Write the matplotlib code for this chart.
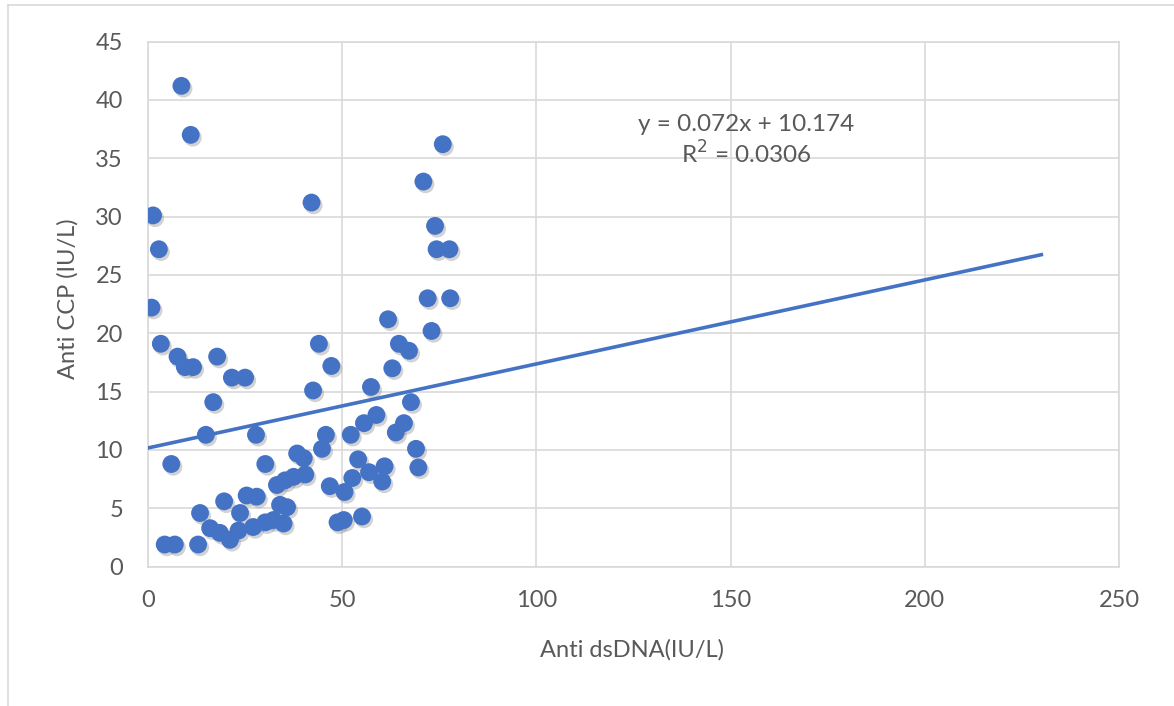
#!/usr/bin/env python3
"""Anti dsDNA と Anti CCP の散布図（Excel風）"""

import numpy as np
import matplotlib
matplotlib.use('Agg')
import matplotlib.pyplot as plt
import matplotlib.patheffects as pe
from matplotlib.lines import Line2D

# データ
anti_dsdna = [
    8.6, 11.0, 42.1, 1.3, 2.8, 0.9,
    3.3, 7.6, 9.5, 11.6, 17.8, 21.6, 25.0, 16.8, 14.9, 27.8, 6.0, 30.2,
    44.0, 47.2, 42.5, 57.4, 45.8, 44.8, 52.2, 55.6, 58.8,
    38.4, 40.1, 40.5, 37.5, 35.3, 33.2, 54.1, 52.6, 50.6, 46.8, 56.9,
    25.4, 28.0, 19.6, 13.4, 23.7, 34.0, 35.8,
    16.0, 18.5, 21.1, 23.3, 27.1, 30.2, 32.3, 34.9, 48.8, 50.4, 55.1,
    4.3, 6.9, 12.9,
    75.9, 70.9, 73.9, 74.3, 77.6, 72.0, 77.8, 61.8, 73.0, 64.6, 67.2,
    62.9, 67.7, 65.9, 63.8, 69.0, 69.6, 60.9, 60.3,
]
anti_ccp = [
    41.2, 37.0, 31.2, 30.1, 27.2, 22.2,
    19.1, 18.0, 17.1, 17.1, 18.0, 16.2, 16.2, 14.1, 11.3, 11.3, 8.8, 8.8,
    19.1, 17.2, 15.1, 15.4, 11.3, 10.1, 11.3, 12.3, 13.0,
    9.7, 9.3, 7.9, 7.7, 7.4, 7.0, 9.2, 7.6, 6.4, 6.9, 8.1,
    6.1, 6.0, 5.6, 4.6, 4.6, 5.3, 5.1,
    3.3, 2.9, 2.3, 3.1, 3.4, 3.8, 4.0, 3.7, 3.8, 4.0, 4.3,
    1.9, 1.9, 1.9,
    36.2, 33.0, 29.2, 27.2, 27.2, 23.0, 23.0, 21.2, 20.2, 19.1, 18.5,
    17.0, 14.1, 12.3, 11.5, 10.1, 8.5, 8.6, 7.3,
]

# 近似直線（グラフ中の式）
slope = 0.072
intercept = 10.174
r_squared = 0.0306
trend_x = [0, 230]

x_ticks = [0, 50, 100, 150, 200, 250]
y_ticks = [0, 5, 10, 15, 20, 25, 30, 35, 40, 45]

text_color = '#595959'
grid_color = '#D9D9D9'
point_color = '#4472C4'

plt.rcParams['font.family'] = ['Lato', 'DejaVu Sans']

fig = plt.figure(figsize=(11.74, 7.06), dpi=100)
fig.patch.set_facecolor('white')
ax = fig.add_axes([148 / 1174, 1 - 566.7 / 706, (1119 - 148) / 1174, (566.7 - 41.5) / 706])

# 外枠（上と左のみ見える）
fig.add_artist(Line2D([8 / 1174, 1], [1 - 5 / 706, 1 - 5 / 706], color='#D9D9D9', lw=1.2))
fig.add_artist(Line2D([8 / 1174, 8 / 1174], [0, 1 - 5 / 706], color='#D9D9D9', lw=1.2))

# 散布図
ax.scatter(
    anti_dsdna, anti_ccp,
    s=165, color=point_color, linewidths=0, zorder=3,
    path_effects=[pe.SimplePatchShadow(offset=(1.5, -2), shadow_rgbFace='#7f7f7f', alpha=0.35),
                  pe.Normal()]
)

# 近似直線
tx = np.array(trend_x)
ax.plot(tx, slope * tx + intercept, color=point_color, linewidth=2.6, zorder=4)

ax.text(
    154, 36.5, f'y = {slope}x + {intercept}\nR$^2$ = {r_squared}',
    ha='center', va='center', fontsize=17.5, color=text_color, linespacing=1.2
)

# 軸設定
ax.set_xlim(0, 250)
ax.set_ylim(0, 45)
ax.set_xticks(x_ticks)
ax.set_yticks(y_ticks)
ax.tick_params(axis='both', length=0, labelsize=17, labelcolor=text_color)
ax.tick_params(axis='x', pad=17)
ax.tick_params(axis='y', pad=18)

ax.set_xlabel('Anti dsDNA(IU/L)', fontsize=17, color=text_color, va='center')
ax.xaxis.set_label_coords(0.498, -0.159)
ax.set_ylabel('Anti CCP (IU/L)', fontsize=17, color=text_color, va='center')
ax.yaxis.set_label_coords(-0.083, 0.51)

# グリッド
ax.grid(True, color=grid_color, linewidth=1.2)
ax.set_axisbelow(True)
for side in ['top', 'right', 'bottom', 'left']:
    ax.spines[side].set_color(grid_color)
    ax.spines[side].set_linewidth(1.2)

plt.savefig('out.png', dpi=100, facecolor='white')
